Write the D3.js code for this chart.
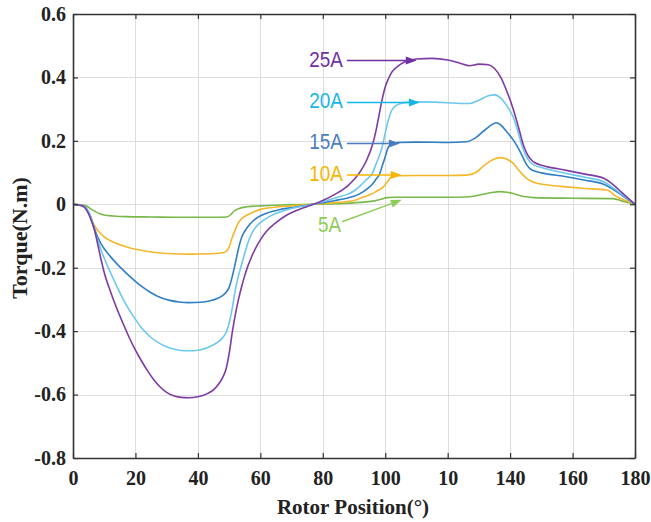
<!DOCTYPE html>
<html>
<head>
<meta charset="utf-8">
<script src="https://cdn.jsdelivr.net/npm/d3@7"></script>
<style>
  html, body { margin: 0; padding: 0; background: #fff; }
  svg { display: block; }
</style>
</head>
<body>
<svg id="chart" width="651" height="522"></svg>
<script>
// ---- Data: static torque vs rotor position for five phase currents ----
const currents = ["25A", "20A", "15A", "10A", "5A"];

const angle25A  = [0,3,5,6,7,8,9,10,12,14,16,18,20,22,24,26,28,30,32,34,37,40,43,45,47,48,49,50,51,52,53,54,55,56,57,58,60,62,65,68,72,77,80,84,88,90,92,94,96,97,98,99,100,101,102,104,106,110,115,120,124,127,130,133,135,137,139,141,143,144,145,146,147,148,150,152,158,164,170,173,176,180];
const torque25A = [0,-0.005,-0.03,-0.055,-0.085,-0.13,-0.175,-0.215,-0.275,-0.328,-0.375,-0.42,-0.46,-0.495,-0.527,-0.555,-0.577,-0.593,-0.603,-0.608,-0.61,-0.607,-0.597,-0.585,-0.562,-0.545,-0.52,-0.472,-0.405,-0.348,-0.3,-0.26,-0.225,-0.195,-0.17,-0.148,-0.112,-0.085,-0.058,-0.037,-0.018,0,0.012,0.032,0.058,0.078,0.103,0.138,0.19,0.23,0.28,0.33,0.37,0.395,0.415,0.435,0.448,0.458,0.46,0.455,0.445,0.437,0.442,0.44,0.428,0.4,0.355,0.3,0.232,0.195,0.168,0.15,0.138,0.131,0.123,0.118,0.107,0.095,0.082,0.062,0.035,0];

const angle20A  = [0,3,5,6,7,8,9,10,12,14,16,18,20,22,25,28,31,34,37,40,43,45,47,48,49,50,51,52,53,54,55,56,57,58,60,63,66,70,77,80,84,88,90,92,94,96,97,98,99,100,101,102,103,105,108,112,116,120,124,127,130,133,135,137,139,141,143,144,145,146,147,148,150,158,164,170,173,176,180];
const torque20A = [0,-0.004,-0.025,-0.05,-0.085,-0.115,-0.145,-0.17,-0.215,-0.258,-0.298,-0.333,-0.363,-0.39,-0.42,-0.44,-0.453,-0.46,-0.462,-0.46,-0.452,-0.443,-0.43,-0.42,-0.405,-0.375,-0.328,-0.27,-0.225,-0.19,-0.155,-0.122,-0.097,-0.079,-0.058,-0.038,-0.025,-0.013,0,0.008,0.02,0.032,0.042,0.058,0.078,0.1,0.125,0.15,0.18,0.225,0.266,0.295,0.308,0.318,0.322,0.323,0.322,0.32,0.318,0.318,0.328,0.342,0.345,0.335,0.31,0.275,0.212,0.178,0.155,0.138,0.128,0.122,0.116,0.097,0.085,0.071,0.052,0.03,0];

const angle15A  = [0,3,5,6,7,8,9,10,12,14,16,18,20,22,25,28,31,34,37,41,44,46,48,49,50,51,52,53,54,55,56.7,59,62,66,70.6,77,80,84,88,90,93,95,96,97,98.3,99,100,101,102,104,110,120,126,129,132,135.7,137,139,141,143,144,145,146,147,148,150,158,164,170,173,176,180];
const torque15A = [0,-0.004,-0.025,-0.05,-0.08,-0.105,-0.125,-0.14,-0.165,-0.187,-0.207,-0.226,-0.243,-0.259,-0.279,-0.294,-0.303,-0.308,-0.31,-0.309,-0.304,-0.298,-0.287,-0.278,-0.262,-0.228,-0.185,-0.14,-0.105,-0.085,-0.062,-0.042,-0.028,-0.017,-0.01,0,0.005,0.012,0.02,0.025,0.04,0.055,0.065,0.078,0.098,0.12,0.15,0.18,0.19,0.195,0.196,0.195,0.197,0.21,0.235,0.257,0.25,0.228,0.203,0.17,0.15,0.13,0.116,0.108,0.104,0.099,0.087,0.076,0.063,0.047,0.027,0];

const angle10A  = [0,3,4,5.4,6.5,7.6,8.6,10,12,14,17,20,24,30,38,44,48,49,50,51,52,53,55,57,60,64,70,77,80,85,90,92,95,97,99.4,101,102,104,110,120,126,129,132,135,137.3,139,141,143,145,146.5,148,152,158,164,171,174,177,180];
const torque10A = [0,-0.003,-0.01,-0.034,-0.06,-0.078,-0.09,-0.103,-0.115,-0.124,-0.134,-0.142,-0.149,-0.155,-0.157,-0.156,-0.153,-0.148,-0.135,-0.105,-0.08,-0.058,-0.038,-0.028,-0.016,-0.01,-0.005,0,0.002,0.006,0.012,0.019,0.03,0.04,0.055,0.075,0.087,0.09,0.091,0.091,0.092,0.1,0.125,0.143,0.147,0.142,0.129,0.105,0.084,0.074,0.068,0.061,0.055,0.05,0.045,0.025,0.012,0];

const angle5A   = [0,3,4.5,5.4,7,8.6,10,13,17,25,35,45,49.2,50.5,51.5,53,55.6,60,68,77,85,92,96,99,100.5,103,120,127,131,134,136.8,139,141,143,145,147.4,160,173,176,180];
const torque5A  = [0,-0.002,-0.006,-0.013,-0.022,-0.03,-0.034,-0.037,-0.039,-0.04,-0.041,-0.041,-0.04,-0.033,-0.022,-0.014,-0.008,-0.005,-0.002,0,0.002,0.006,0.01,0.017,0.021,0.022,0.022,0.024,0.031,0.037,0.04,0.038,0.034,0.028,0.024,0.021,0.019,0.018,0.01,0];

const rotorTicks       = [0, 20, 40, 60, 80, 100, 120, 140, 160, 180];
const rotorTickLabels  = ["0", "20", "40", "60", "80", "100", "10", "140", "160", "180"];
const torqueTicks      = [-0.8, -0.6, -0.4, -0.2, 0, 0.2, 0.4, 0.6];
const torqueTickLabels = ["-0.8", "-0.6", "-0.4", "-0.2", "0", "0.2", "0.4", "0.6"];

// ---- Layout and styling ----
const angles  = [angle25A, angle20A, angle15A, angle10A, angle5A];
const torques = [torque25A, torque20A, torque15A, torque10A, torque5A];
const curveColors = ["#7d3ba3", "#6cc8ef", "#2f7fc4", "#f5b72a", "#79b84a"];
const noteColors  = ["#7030a0", "#16b6ea", "#4a7cc0", "#f7b400", "#8fcc58"];

// callout geometry in data units: arrow tail and arrow tip
const callouts = [
  { tail: [87.7, 0.453], tip: [110.1, 0.453] },
  { tail: [87.7, 0.321], tip: [111.1, 0.321] },
  { tail: [87.7, 0.192], tip: [104.7, 0.192] },
  { tail: [87.7, 0.092], tip: [105.3, 0.092] },
  { tail: [86.2, -0.055], tip: [105.3, 0.014] }
];

const svg = d3.select("#chart");
const plotL = 73, plotR = 635, plotT = 14, plotB = 458;

const x = d3.scaleLinear().domain([0, 180]).range([plotL, plotR]);
const y = d3.scaleLinear().domain([-0.8, 0.6]).range([plotB, plotT]);

svg.append("rect").attr("width", 651).attr("height", 522).attr("fill", "#fff");

// grid
const grid = svg.append("g").attr("stroke", "#dedede").attr("stroke-width", 1);
grid.selectAll("line.v").data(rotorTicks.slice(1, -1)).join("line")
  .attr("x1", d => Math.round(x(d)) + 0.5).attr("x2", d => Math.round(x(d)) + 0.5)
  .attr("y1", plotT).attr("y2", plotB);
grid.selectAll("line.h").data(torqueTicks.slice(1, -1)).join("line")
  .attr("y1", d => Math.round(y(d)) + 0.5).attr("y2", d => Math.round(y(d)) + 0.5)
  .attr("x1", plotL).attr("x2", plotR);

// curves
const line = d3.line().x(d => x(d[0])).y(d => y(d[1])).curve(d3.curveMonotoneX);
const curveOrder = [4, 3, 2, 1, 0];
curveOrder.forEach(i => {
  const pts = angles[i].map((a, k) => [a, torques[i][k]]);
  svg.append("path")
    .attr("d", line(pts))
    .attr("fill", "none")
    .attr("stroke", curveColors[i])
    .attr("stroke-width", 1.6)
    .attr("stroke-linejoin", "round");
});

// axes
const tickFont = "'Liberation Serif', 'Times New Roman', serif";
const axisColor = "#333";

const xAxis = d3.axisBottom(x).tickValues(rotorTicks)
  .tickFormat((d, i) => rotorTickLabels[i]).tickSize(-5).tickSizeOuter(0).tickPadding(13);
const gx = svg.append("g").attr("transform", `translate(0,${plotB})`).call(xAxis);

const yAxis = d3.axisLeft(y).tickValues(torqueTicks)
  .tickFormat((d, i) => torqueTickLabels[i]).tickSize(-5).tickSizeOuter(0).tickPadding(7);
const gy = svg.append("g").attr("transform", `translate(${plotL},0)`).call(yAxis);

const gxTop = svg.append("g").attr("transform", `translate(0,${plotT})`)
  .call(d3.axisTop(x).tickValues(rotorTicks).tickFormat("").tickSize(-5).tickSizeOuter(0));
const gyRight = svg.append("g").attr("transform", `translate(${plotR},0)`)
  .call(d3.axisRight(y).tickValues(torqueTicks).tickFormat("").tickSize(-5).tickSizeOuter(0));

[gx, gy, gxTop, gyRight].forEach(g => {
  g.selectAll(".domain").attr("stroke", axisColor).attr("stroke-width", 1.6);
  g.selectAll(".tick line").attr("stroke", axisColor).attr("stroke-width", 1.2);
  g.selectAll(".tick text")
    .attr("fill", "#222")
    .style("font-family", tickFont)
    .style("font-weight", "bold")
    .style("font-size", "20px");
});

// axis titles
svg.append("text")
  .attr("x", 353).attr("y", 514)
  .attr("text-anchor", "middle")
  .style("font-family", tickFont).style("font-weight", "bold").style("font-size", "21px")
  .attr("fill", "#222")
  .text("Rotor Position(°)");

svg.append("text")
  .attr("transform", "translate(27,238) rotate(-90)")
  .attr("text-anchor", "middle")
  .style("font-family", tickFont).style("font-weight", "bold").style("font-size", "22px")
  .attr("fill", "#222")
  .text("Torque(N.m)");

// callouts with arrows
callouts.forEach((c, i) => {
  const x0 = x(c.tail[0]), y0 = y(c.tail[1]);
  const x1 = x(c.tip[0]),  y1 = y(c.tip[1]);
  const ang = Math.atan2(y1 - y0, x1 - x0);
  const len = 11, half = 4;
  const bx = x1 - len * Math.cos(ang), by = y1 - len * Math.sin(ang);
  svg.append("line")
    .attr("x1", x0).attr("y1", y0).attr("x2", bx).attr("y2", by)
    .attr("stroke", noteColors[i]).attr("stroke-width", 1.5);
  svg.append("polygon")
    .attr("points", [
      [x1, y1],
      [bx + half * Math.sin(ang), by - half * Math.cos(ang)],
      [bx - half * Math.sin(ang), by + half * Math.cos(ang)]
    ].map(p => p.join(",")).join(" "))
    .attr("fill", noteColors[i]);
  const tx = i === 4 ? x0 - 1 : x0 - 4;
  const ty = i === 4 ? y0 + 2 : y0 - 2;
  svg.append("text")
    .attr("transform", `translate(${tx},${ty}) scale(0.86,1)`)
    .attr("text-anchor", "end")
    .attr("dy", "0.36em")
    .style("font-family", "'Liberation Sans', Arial, sans-serif")
    .style("font-size", "22px")
    .attr("fill", noteColors[i])
    .text(currents[i]);
});
</script>
</body>
</html>
